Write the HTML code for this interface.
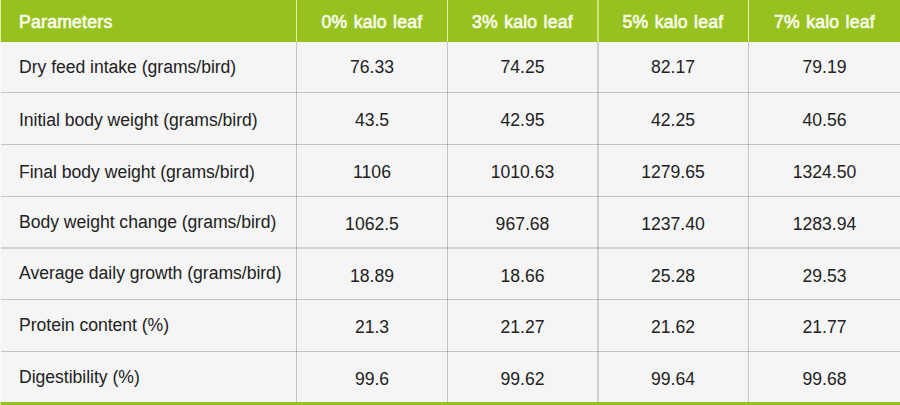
<!DOCTYPE html>
<html><head><meta charset="utf-8"><style>
html,body{margin:0;padding:0;width:900px;height:405px;overflow:hidden;background:#f5f5f5;}
body{position:relative;font-family:"Liberation Sans",sans-serif;}
.a{position:absolute;}
.hd{position:absolute;top:0;height:41.5px;background:#97c11f;left:0;width:900px;}
.ht{position:absolute;top:0;height:41.5px;line-height:41.5px;color:#f6fbe6;font-weight:normal;-webkit-text-stroke:0.7px #f6fbe6;font-size:17.6px;word-spacing:1px;letter-spacing:0.25px;padding-top:2px;white-space:nowrap;}
.t{position:absolute;color:#222222;font-size:17.6px;white-space:nowrap;}
.vl{position:absolute;width:1px;background:rgba(0,0,0,0.2);}
.hl{position:absolute;height:1px;background:rgba(0,0,0,0.2);left:1px;width:899px;}
.hvl{position:absolute;width:1px;background:#e2f2a4;top:0;height:41.5px;}
</style></head><body>
<div class="hd"></div>
<div class="a" style="left:0;top:0;width:1px;height:41.5px;background:#e2f2a4"></div>
<div class="a" style="left:0;top:41.5px;width:1px;height:360.5px;background:#fafafa"></div>

<div class="hvl" style="left:296px"></div>
<div class="vl" style="left:296px;top:41.5px;height:360.5px"></div>
<div class="hvl" style="left:447px"></div>
<div class="vl" style="left:447px;top:41.5px;height:360.5px"></div>
<div class="hvl" style="left:597px;width:2px;background:#c9e676"></div>
<div class="vl" style="left:597px;width:2px;background:rgba(0,0,0,0.15);top:41.5px;height:360.5px"></div>
<div class="hvl" style="left:748px"></div>
<div class="vl" style="left:748px;top:41.5px;height:360.5px"></div>
<div class="hl" style="top:92px"></div>
<div class="hl" style="top:144px"></div>
<div class="hl" style="top:196px"></div>
<div class="hl" style="top:247px;height:2px;background:rgba(0,0,0,0.15)"></div>
<div class="hl" style="top:299px"></div>
<div class="hl" style="top:351px"></div>
<div class="a" style="left:0;top:402px;width:900px;height:3px;background:#97c11f"></div>
<div class="a" style="left:0;top:402px;width:1px;height:3px;background:#d4ea8a"></div>
<div class="ht" style="left:19px">Parameters</div>
<div class="ht" style="left:297px;width:150px;text-align:center">0% kalo leaf</div>
<div class="ht" style="left:448px;width:149px;text-align:center">3% kalo leaf</div>
<div class="ht" style="left:598px;width:150px;text-align:center">5% kalo leaf</div>
<div class="ht" style="left:749px;width:151px;text-align:center">7% kalo leaf</div>
<div class="t" style="letter-spacing:-0.03px;left:19px;top:41.5px;height:50.5px;line-height:50.5px">Dry feed intake (grams/bird)</div>
<div class="t" style="left:297px;width:150px;text-align:center;top:41.5px;height:50.5px;line-height:50.5px">76.33</div>
<div class="t" style="left:448px;width:149px;text-align:center;top:41.5px;height:50.5px;line-height:50.5px">74.25</div>
<div class="t" style="left:598px;width:150px;text-align:center;top:41.5px;height:50.5px;line-height:50.5px">82.17</div>
<div class="t" style="left:749px;width:151px;text-align:center;top:41.5px;height:50.5px;line-height:50.5px">79.19</div>
<div class="t" style="letter-spacing:-0.03px;left:19px;top:94.5px;height:51px;line-height:51px">Initial body weight (grams/bird)</div>
<div class="t" style="left:297px;width:150px;text-align:center;top:95px;height:51px;line-height:51px">43.5</div>
<div class="t" style="left:448px;width:149px;text-align:center;top:95px;height:51px;line-height:51px">42.95</div>
<div class="t" style="left:598px;width:150px;text-align:center;top:95px;height:51px;line-height:51px">42.25</div>
<div class="t" style="left:749px;width:151px;text-align:center;top:95px;height:51px;line-height:51px">40.56</div>
<div class="t" style="letter-spacing:-0.03px;left:19px;top:146.5px;height:51px;line-height:51px">Final body weight (grams/bird)</div>
<div class="t" style="left:297px;width:150px;text-align:center;top:147px;height:51px;line-height:51px">1106</div>
<div class="t" style="left:448px;width:149px;text-align:center;top:147px;height:51px;line-height:51px">1010.63</div>
<div class="t" style="left:598px;width:150px;text-align:center;top:147px;height:51px;line-height:51px">1279.65</div>
<div class="t" style="left:749px;width:151px;text-align:center;top:147px;height:51px;line-height:51px">1324.50</div>
<div class="t" style="letter-spacing:-0.03px;left:19px;top:197px;height:50.5px;line-height:50.5px">Body weight change (grams/bird)</div>
<div class="t" style="left:297px;width:150px;text-align:center;top:199px;height:50.5px;line-height:50.5px">1062.5</div>
<div class="t" style="left:448px;width:149px;text-align:center;top:199px;height:50.5px;line-height:50.5px">967.68</div>
<div class="t" style="left:598px;width:150px;text-align:center;top:199px;height:50.5px;line-height:50.5px">1237.40</div>
<div class="t" style="left:749px;width:151px;text-align:center;top:199px;height:50.5px;line-height:50.5px">1283.94</div>
<div class="t" style="letter-spacing:-0.03px;left:19px;top:247.5px;height:50.5px;line-height:50.5px">Average daily growth (grams/bird)</div>
<div class="t" style="left:297px;width:150px;text-align:center;top:250.5px;height:50.5px;line-height:50.5px">18.89</div>
<div class="t" style="left:448px;width:149px;text-align:center;top:250.5px;height:50.5px;line-height:50.5px">18.66</div>
<div class="t" style="left:598px;width:150px;text-align:center;top:250.5px;height:50.5px;line-height:50.5px">25.28</div>
<div class="t" style="left:749px;width:151px;text-align:center;top:250.5px;height:50.5px;line-height:50.5px">29.53</div>
<div class="t" style="letter-spacing:-0.03px;left:19px;top:300px;height:51px;line-height:51px">Protein content (%)</div>
<div class="t" style="left:297px;width:150px;text-align:center;top:302px;height:51px;line-height:51px">21.3</div>
<div class="t" style="left:448px;width:149px;text-align:center;top:302px;height:51px;line-height:51px">21.27</div>
<div class="t" style="left:598px;width:150px;text-align:center;top:302px;height:51px;line-height:51px">21.62</div>
<div class="t" style="left:749px;width:151px;text-align:center;top:302px;height:51px;line-height:51px">21.77</div>
<div class="t" style="letter-spacing:-0.03px;left:19px;top:352px;height:50px;line-height:50px">Digestibility (%)</div>
<div class="t" style="left:297px;width:150px;text-align:center;top:354px;height:50px;line-height:50px">99.6</div>
<div class="t" style="left:448px;width:149px;text-align:center;top:354px;height:50px;line-height:50px">99.62</div>
<div class="t" style="left:598px;width:150px;text-align:center;top:354px;height:50px;line-height:50px">99.64</div>
<div class="t" style="left:749px;width:151px;text-align:center;top:354px;height:50px;line-height:50px">99.68</div>
</body></html>
